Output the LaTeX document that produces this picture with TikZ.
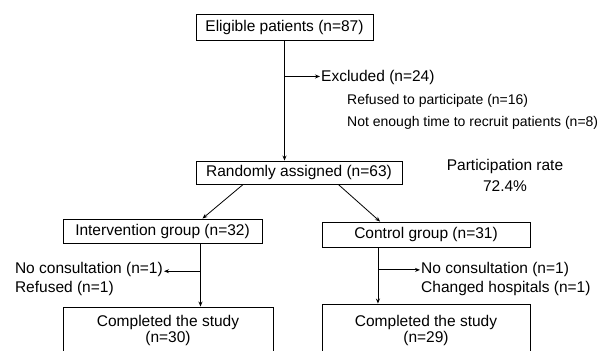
\documentclass[tikz,border=0pt]{standalone}
\usepackage{fontspec}
\setmainfont{Liberation Sans}
\usetikzlibrary{positioning,arrows.meta,calc}

\begin{document}
\begin{tikzpicture}[x=1pt, y=-1pt, every node/.style={font=\fontsize{15.5}{16}\selectfont},
  cuadro/.style={draw, line width=0.9pt, inner sep=0pt, align=center},
  nota/.style={inner sep=1pt, anchor=west},
  chica/.style={nota, font=\fontsize{14}{16}\selectfont},
  conn/.style={-{Stealth[length=5pt, width=4pt]}, line width=0.8pt}]
\useasboundingbox (0,0) rectangle (601,350);
\clip (0,0) rectangle (601,350);
\node[cuadro, minimum width=177pt, minimum height=26pt] (e) at (284.5,27) {Eligible patients (n=87)};
\node[cuadro, minimum width=206pt, minimum height=23pt] (r) at (299,172.5) {Randomly assigned (n=63)};
\node[align=center, font=\fontsize{15.5}{21}\selectfont] (p) at (505,175) {Participation rate\\72.4\%};
\node[cuadro, minimum width=199pt, minimum height=24pt] (i) at (162.5,231) {Intervention group (n=32)};
\node[cuadro, minimum width=208pt, minimum height=25pt] (k) at (426,234.5) {Control group (n=31)};
\node[cuadro, minimum width=210pt, minimum height=46pt] (c1) at (168,330) {Completed the study\\(n=30)};
\node[cuadro, minimum width=208pt, minimum height=52pt] (c2) at (426,330) {Completed the study\\(n=29)};
% excluded
\node[nota] (x) at (320,77) {Excluded (n=24)};
\node[chica] (x1) at (346,101) {Refused to participate (n=16)};
\node[chica, below=6.5pt of x1.south west, anchor=north west] (x2) {Not enough time to recruit patients (n=8)};
\coordinate (b1) at ($(e.south)!0.3!(e.south |- r.north)$);
\draw[conn] (e.south) -- (e.south |- r.north);
\draw[conn] (b1) -- (b1 -| x.west);
\draw[conn] ($(r.south west)!0.23!(r.south east)$) -- ($(i.north west)!0.70!(i.north east)$);
\draw[conn] ($(r.south west)!0.69!(r.south east)$) -- ($(k.north west)!0.28!(k.north east)$);
% losses
\node[nota, anchor=east] (n1) at (164,269) {No consultation (n=1)};
\node[nota, below=2.5pt of n1.south west, anchor=north west] (f1) {Refused (n=1)};
\node[nota] (n2) at (420,269) {No consultation (n=1)};
\node[nota, below=2.5pt of n2.south west, anchor=north west] (f2) {Changed hospitals (n=1)};
\coordinate (v1) at ($(i.south west)!0.69!(i.south east)$);
\coordinate (v2) at ($(k.south west)!0.27!(k.south east)$);
\coordinate (b2) at ($(v1)!0.44!(v1 |- c1.north)$);
\coordinate (b3) at ($(v2)!0.40!(v2 |- c2.north)$);
\draw[conn] (v1) -- (v1 |- c1.north);
\draw[conn] (v2) -- (v2 |- c2.north);
\draw[conn] (b2) -- (b2 -| n1.east);
\draw[conn] (b3) -- (b3 -| n2.west);
\end{tikzpicture}
\end{document}
